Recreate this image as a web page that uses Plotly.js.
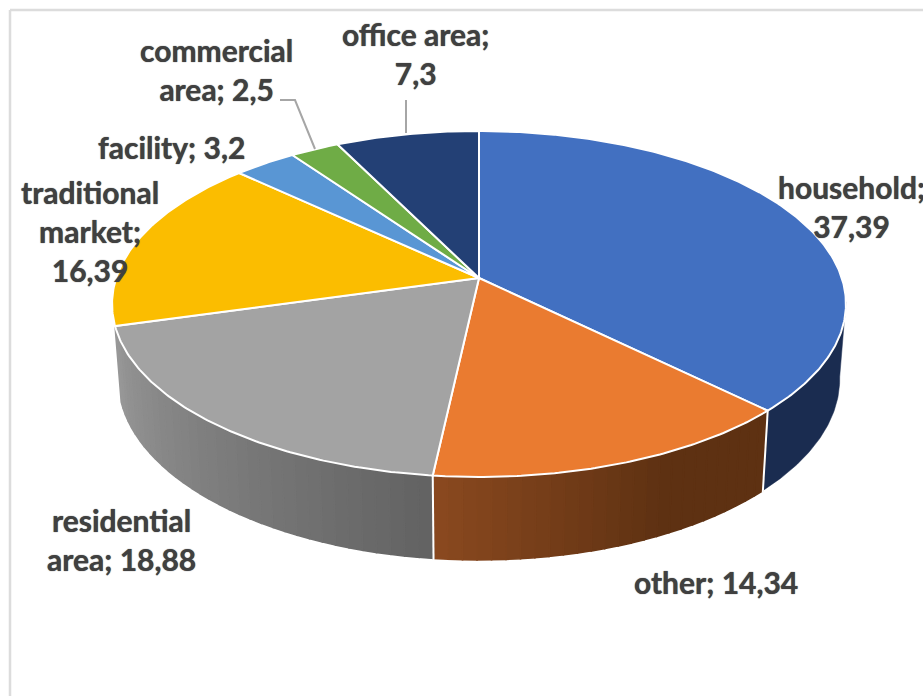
<!DOCTYPE html>
<html>
<head>
<meta charset="utf-8">
<script src="https://cdn.plot.ly/plotly-3.0.1.min.js"></script>
<style>html,body{margin:0;padding:0;background:#fff;overflow:hidden}#chart{width:923px;height:696px}</style>
</head>
<body>
<div id="chart"></div>
<script>
// Data
const categories = ['household','other','residential area','traditional market','facility','commercial area','office area'];
const values = [37.39,14.34,18.88,16.39,3.2,2.5,7.3];
const valueLabels = ['37,39','14,34','18,88','16,39','3,2','2,5','7,3'];
const labelBreaks = ['household;<br>37,39','other; 14,34','residential<br>area; 18,88','traditional<br>market;<br>16,39','facility; 3,2','commercial<br>area; 2,5','office area;<br>7,3'];
const labelX = [851,716,121,90,171,216,415];
const labelY = [206,582,539,231,147,69,53];

// Style
const topColors = ['#4270c1','#ea7b30','#a3a3a3','#fbbd00','#5996d4','#6fac46','#234075'];
const wallLeft = {0:[26,44,80],1:[138,73,31],2:[152,152,152]};
const wallRight = {0:[26,44,80],1:[94,49,18],2:[98,98,98]};

// Projection of the tilted disc into the pixel-space axes
const cx=479, cy=278, a=362.8, k=169.1, p=0.15;
function rim(th){
  const u=Math.sin(th), v=-Math.cos(th), d=1-p*v;
  return [cx+a*u/d, cy+k*v/d];
}
function floor(pt){
  return [cx+(pt[0]-cx)*0.983, pt[1]+74+0.045*(pt[1]-cy)];
}
const total = values.reduce((s,v)=>s+v,0);
const starts=[]; let acc=0;
values.forEach(v=>{starts.push(acc/total*2*Math.PI); acc+=v;});
const TAU=2*Math.PI;
const traces=[];

// Side walls of the three front slices (drawn as small shaded strips)
[0,1,2].forEach(i=>{
  const s0 = i===0 ? TAU*0.272 : starts[i];
  const s1 = starts[i]+values[i]/total*TAU;
  const n = i===0 ? 1 : Math.ceil((s1-s0)/(Math.PI/90));
  for(let j=0;j<n;j++){
    const t0=s0+(s1-s0)*j/n, t1=s0+(s1-s0)*(j+1)/n, f=(j+0.5)/n;
    // shading runs from the lit left side to the dark right side
    const g = i===1 ? Math.min(1,(1-f)*1.6) : (i===2 ? 1-f : 0);
    const col = wallLeft[i].map((c,m)=>Math.round(c+(wallRight[i][m]-c)*g));
    const xs=[],ys=[];
    const steps=i===0?60:4;
    for(let q=0;q<=steps;q++){const r=rim(t0+(t1-t0)*q/steps);xs.push(r[0]);ys.push(r[1]);}
    for(let q=steps;q>=0;q--){const r=floor(rim(t0+(t1-t0)*q/steps));xs.push(r[0]);ys.push(r[1]);}
    xs.push(xs[0]);ys.push(ys[0]);
    const c='rgb('+col.join(',')+')';
    traces.push({type:'scatter',mode:'lines',x:xs,y:ys,fill:'toself',fillcolor:c,line:{color:c,width:i===0?0.5:1.6},hoverinfo:'skip',showlegend:false});
  }
});
// White dividers on the wall
[starts[1],starts[2]].forEach(t=>{
  const r=rim(t), b=floor(r);
  traces.push({type:'scatter',mode:'lines',x:[r[0],b[0]],y:[r[1],b[1]+1.5],line:{color:'#ffffff',width:2},hoverinfo:'skip',showlegend:false});
});

// Top faces
values.forEach((v,i)=>{
  const s0=starts[i], s1=s0+v/total*TAU;
  const n=Math.max(12,Math.ceil((s1-s0)/0.01));
  const xs=[cx],ys=[cy];
  for(let q=0;q<=n;q++){const r=rim(s0+(s1-s0)*q/n);xs.push(r[0]);ys.push(r[1]);}
  xs.push(cx);ys.push(cy);
  traces.push({type:'scatter',mode:'lines',name:categories[i],x:xs,y:ys,fill:'toself',fillcolor:topColors[i],
    line:{color:'#ffffff',width:2},text:valueLabels[i],hoverinfo:'name+text',showlegend:false});
});

// Leader lines
const leaderX=[[280,295,315],[406,406]];
const leaderY=[[100,100,149],[100,133]];
leaderX.forEach((lx,i)=>traces.push({type:'scatter',mode:'lines',x:lx,y:leaderY[i],line:{color:'#a6a6a6',width:2},hoverinfo:'skip',showlegend:false}));

const annotations=labelBreaks.map((t,i)=>({x:labelX[i],y:labelY[i],xref:'x',yref:'y',text:t,showarrow:false,
  xanchor:'center',yanchor:'middle',align:'center',
  font:{family:'Lato, "Open Sans", sans-serif',size:30,color:'#404040',weight:700,shadow:'0 0 1px #404040'}}));

const layout={
  width:923,height:696,margin:{l:0,r:0,t:0,b:0},paper_bgcolor:'#ffffff',plot_bgcolor:'#ffffff',showlegend:false,
  xaxis:{range:[0,923],visible:false,fixedrange:true},
  yaxis:{range:[696,0],visible:false,fixedrange:true},
  annotations:annotations,
  shapes:[
    {type:'line',xref:'x',yref:'y',x0:10,x1:10,y0:10,y1:696,line:{color:'#dcdcdc',width:2.5}},
    {type:'line',xref:'x',yref:'y',x0:10,x1:923,y0:10,y1:10,line:{color:'#dcdcdc',width:2.5}}
  ]
};
Plotly.newPlot('chart',traces,layout,{displayModeBar:false,staticPlot:true});
</script>
</body>
</html>
